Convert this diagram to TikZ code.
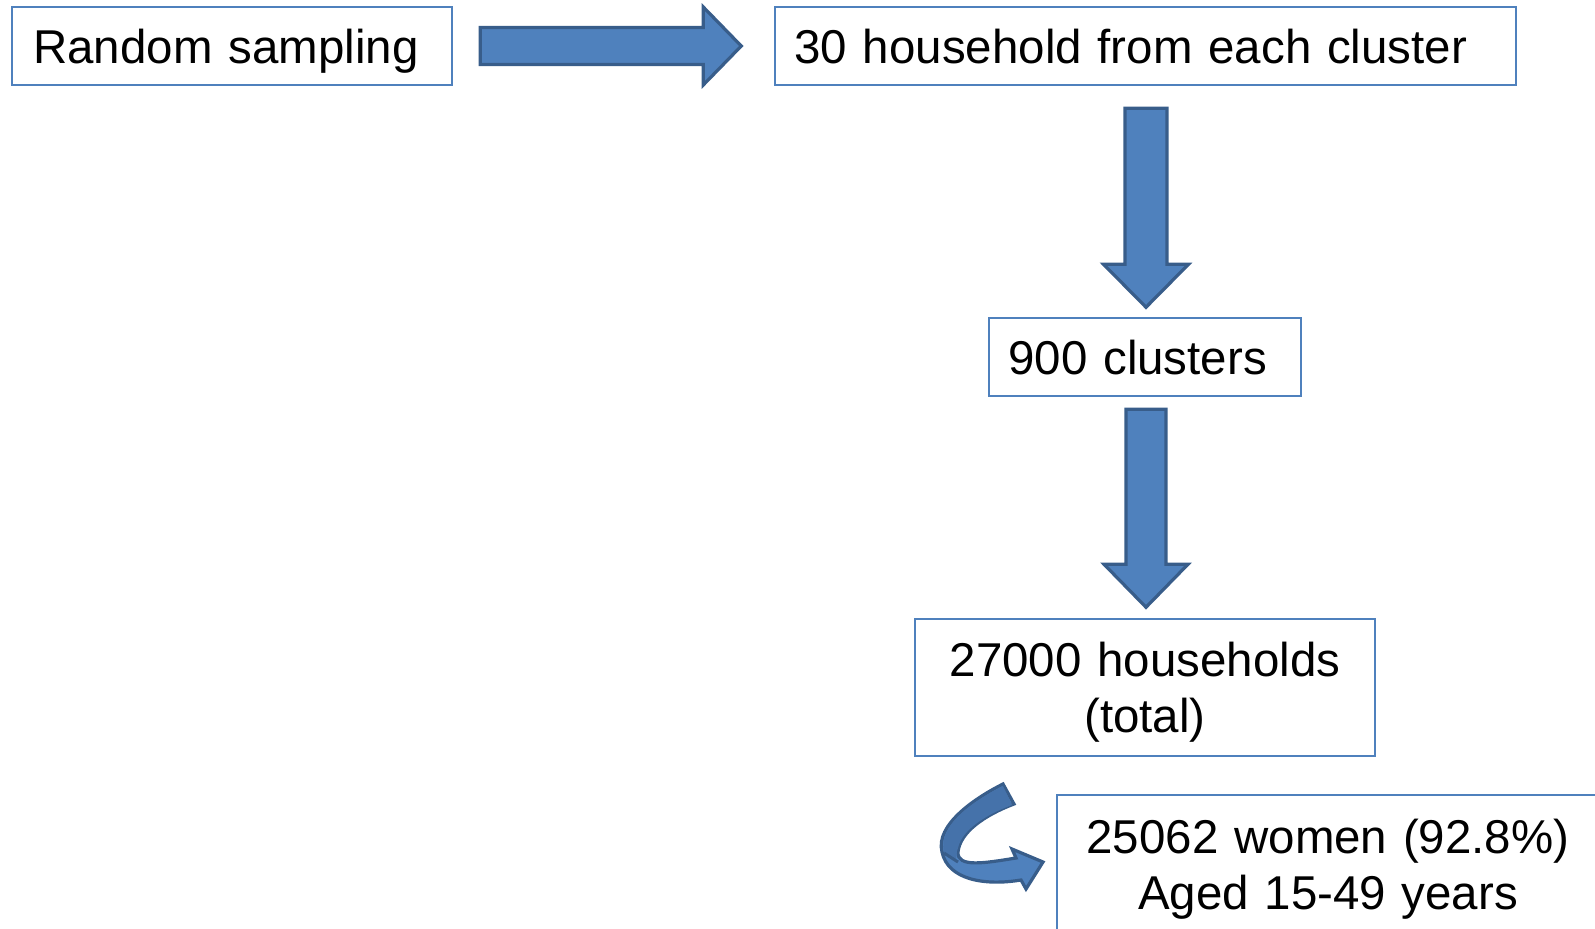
\documentclass[tikz,border=0pt]{standalone}
\usepackage{fontspec}
\setmainfont{Liberation Sans}
\usetikzlibrary{calc}
\definecolor{boxblue}{HTML}{4F81BD}
\definecolor{arrowfill}{HTML}{4F81BD}
\definecolor{arrowedge}{HTML}{385D8A}
\definecolor{arrowdark}{HTML}{4572AA}
\tikzset{
  flowbox/.style={draw=boxblue, line width=1.9pt, rectangle, inner ysep=0pt,
    text height=25.5pt, text depth=0pt, font=\fontsize{35.6}{42}\selectfont},
  leftbox/.style={flowbox, align=left},
  twoline/.style={flowbox, align=center, text depth=42pt, inner xsep=0pt},
  blk/.style={fill=arrowfill, draw=arrowedge, line width=2.4pt, line join=miter},
}
\begin{document}
\begin{tikzpicture}[x=0.75pt, y=-0.75pt]
\useasboundingbox (0,0) rectangle (1595,928);
\begin{scope}
\clip (0,0) rectangle (1595,928);

\node[leftbox, minimum width=330pt, minimum height=58.5pt, inner xsep=16pt, text width=298pt]
  (b1) at (232,46) {Random sampling};
\node[leftbox, minimum width=555.75pt, minimum height=58.5pt, inner xsep=14.5pt, text width=526.75pt]
  (b2) at (1145.5,46) {30 household from each cluster};
\node[leftbox, minimum width=234pt, minimum height=58.5pt, inner xsep=14.5pt, text width=205pt]
  (b3) at (1145,357) {900 clusters};
\node[twoline, minimum width=345pt, minimum height=102.75pt, text width=345pt]
  (b4) at (1145,687.5) {27000 households\\(total)};
\node[twoline, minimum width=406.5pt, minimum height=104.25pt, text width=406.5pt]
  (b5) at (1328,864.5) {25062 women (92.8\%)\\Aged 15-49 years};

% right block arrow b1 -> b2
\draw[blk] ($(b1.east)+(27,0)$) ++(0,-18.5) -- ++(223,0) -- ++(0,-20.5) -- ++(38,39)
  -- ++(-38,39) -- ++(0,-20.5) -- ++(-223,0) -- cycle;

% down block arrow b2 -> b3
\draw[blk] ($(b2.south)+(0.5,22)$) ++(-21,0) -- ++(0,156) -- ++(-21.5,0) -- ++(42.5,43)
  -- ++(42.5,-43) -- ++(-21.5,0) -- ++(0,-156) -- cycle;

% down block arrow b3 -> b4
\draw[blk] ($(b3.south)+(1,12)$) ++(-20,0) -- ++(0,155) -- ++(-22,0) -- ++(42,43)
  -- ++(42,-43) -- ++(-22,0) -- ++(0,-155) -- cycle;

% curved arrow b4 -> b5
\draw[blk] (1003,784) .. controls (975,798) and (935,825) .. (942,852)
  .. controls (948,880) and (985,886) .. (1021,880)
  -- (1026,889) -- (1043,862) -- (1012,849) -- (1016,858)
  .. controls (985,863) and (957,868) .. (958,852)
  .. controls (960,832) and (985,815) .. (1014,804) -- cycle;
\fill[arrowdark] (1003,786) .. controls (975,800) and (937,825) .. (944,852)
  -- (956,860) .. controls (957,850) .. (958,848)
  .. controls (962,830) and (985,815) .. (1012,805) -- cycle;
\draw[arrowedge, line width=2.25pt] (944,853) -- (958,862);
\end{scope}
\end{tikzpicture}
\end{document}
